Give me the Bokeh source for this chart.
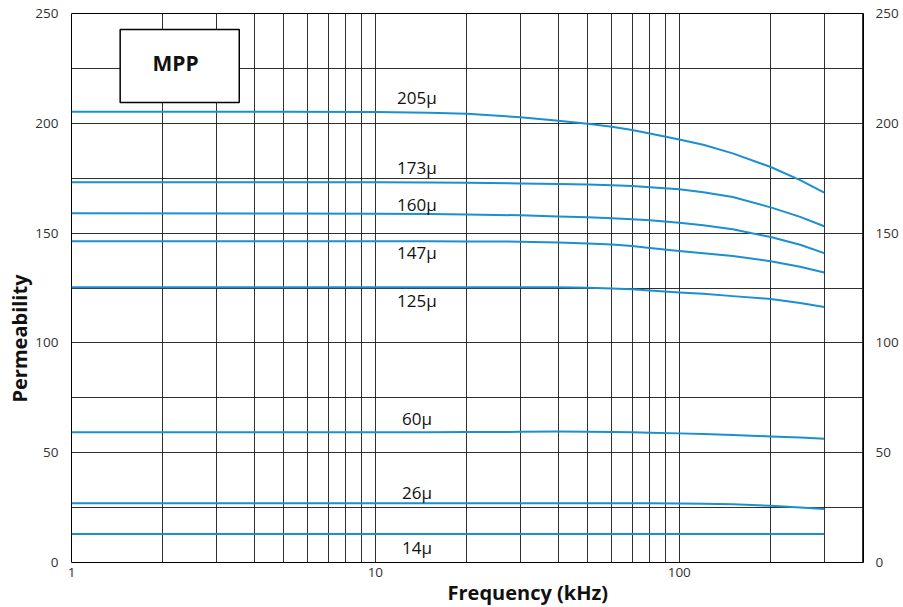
import math
from bokeh.plotting import figure
from bokeh.models import Range1d, LinearAxis, FixedTicker, Title, ColumnDataSource
from bokeh.embed import file_html
from bokeh.resources import INLINE
from bokeh.core.properties import value

# ---- data ----
freq = [1, 5, 10, 15, 20, 30, 40, 50, 60, 70, 80, 100, 120, 150, 200, 250, 300]
mu205 = [205.3, 205.3, 205.1, 204.8, 204.3, 202.8, 201.2, 199.8, 198.4, 196.9, 195.4, 192.6, 190.2, 186.3, 180.1, 174.1, 168.4]
mu173 = [173.1, 173.1, 173.1, 173.0, 172.9, 172.6, 172.4, 172.1, 171.8, 171.4, 170.9, 170.0, 168.6, 166.4, 161.7, 157.4, 153.1]
mu160 = [159.0, 158.9, 158.8, 158.7, 158.5, 158.1, 157.6, 157.2, 156.8, 156.3, 155.8, 154.7, 153.6, 151.8, 148.2, 144.7, 140.9]
mu147 = [146.3, 146.3, 146.3, 146.3, 146.2, 146.1, 145.7, 145.3, 144.8, 144.1, 143.2, 141.8, 140.8, 139.6, 137.2, 134.7, 132.1]
mu125 = [125.3, 125.3, 125.3, 125.3, 125.3, 125.3, 125.3, 125.1, 124.8, 124.4, 123.9, 123.0, 122.4, 121.3, 120.0, 118.2, 116.3]
mu60 = [59.3, 59.3, 59.3, 59.3, 59.4, 59.5, 59.6, 59.5, 59.4, 59.3, 59.1, 58.8, 58.5, 58.1, 57.4, 56.9, 56.4]
mu26 = [27.0, 27.0, 27.0, 27.0, 27.0, 27.0, 27.0, 27.0, 27.0, 27.0, 27.0, 26.9, 26.8, 26.5, 25.8, 25.1, 24.4]
mu14 = [13.0, 13.0, 13.0, 13.0, 13.0, 13.0, 13.0, 13.0, 13.0, 13.0, 13.0, 13.0, 13.0, 13.0, 13.0, 13.0, 13.0]
series = [mu205, mu173, mu160, mu147, mu125, mu60, mu26, mu14]

curve_labels = ["205\u03bc", "173\u03bc", "160\u03bc", "147\u03bc", "125\u03bc", "60\u03bc", "26\u03bc", "14\u03bc"]
label_y = [211.9, 180.0, 163.0, 141.2, 119.4, 65.5, 32.0, 6.8]
label_x = 13.7

x_major = [1, 10, 100]
x_grid = [1, 2, 3, 4, 5, 6, 7, 8, 9, 10, 20, 30, 40, 50, 60, 70, 80, 90, 100, 200, 300, 400]
y_major = [0, 50, 100, 150, 200, 250]
y_grid = [0, 25, 50, 75, 100, 125, 150, 175, 200, 225, 250]

FONT = "Open Sans"
CURVE = "#1b8fcf"

p = figure(width=903, height=607, x_axis_type="log",
           x_range=Range1d(1, 404), y_range=Range1d(0, 250),
           output_backend="svg", toolbar_location=None,
           min_border_left=71, min_border_right=40,
           min_border_top=13, min_border_bottom=45)
p.background_fill_color = "white"
p.border_fill_color = "white"
p.outline_line_color = "black"
p.outline_line_width = 1

# axes
xa = p.xaxis[0]
xa.ticker = FixedTicker(ticks=x_major)
ya = p.yaxis[0]
ya.ticker = FixedTicker(ticks=y_major)
ry = LinearAxis(ticker=FixedTicker(ticks=y_major))
p.add_layout(ry, "right")
for ax in (xa, ya, ry):
    ax.axis_line_color = None
    ax.major_tick_line_color = None
    ax.minor_tick_line_color = None
    ax.major_tick_out = 0
    ax.major_tick_in = 0
    ax.minor_tick_out = 0
    ax.major_label_text_font = FONT
    ax.major_label_text_font_size = "13.5px"
    ax.major_label_text_color = "#333333"
xa.major_label_standoff = 5
ya.major_label_standoff = 13
ry.major_label_standoff = 12
xa.major_label_overrides = {1: "1", 10: "10", 100: "100"}

# grid
p.xgrid.ticker = FixedTicker(ticks=x_grid)
p.ygrid.ticker = FixedTicker(ticks=y_grid)
for g in (p.xgrid, p.ygrid):
    g.grid_line_color = "#1a1a1a"
    g.grid_line_width = 1
    g.grid_line_alpha = 0.9

# curves
for s in series:
    p.line(freq, s, line_color=CURVE, line_width=2, line_join="round")

# curve labels
src = ColumnDataSource(dict(x=[label_x] * len(curve_labels), y=label_y, t=curve_labels))
p.text(x="x", y="y", text="t", source=src, text_font=value(FONT),
       text_font_size="17px", text_color="#111111",
       text_align="center", text_baseline="middle")

# MPP box
p.quad(left=[1.446], right=[3.565], bottom=[209.5], top=[242.7],
       fill_color="white", line_color="black", line_width=1.5)
p.text(x=[2.20], y=[227.5], text=["MPP"], text_font=value(FONT),
       text_font_size="21px", text_font_style="bold", text_color="#111111",
       text_align="center", text_baseline="middle")

# axis titles (offset from the frame centre like the reference)
p.add_layout(Title(text="Frequency (kHz)", align="left", offset=376, standoff=-6,
                   text_font=FONT, text_font_size="20px", text_font_style="bold",
                   text_color="#111111"), "below")
p.add_layout(Title(text="Permeability", align="left", offset=160, standoff=0,
                   text_font=FONT, text_font_size="20px", text_font_style="bold",
                   text_color="#111111"), "left")

open("out.html", "w").write(file_html(p, INLINE))
